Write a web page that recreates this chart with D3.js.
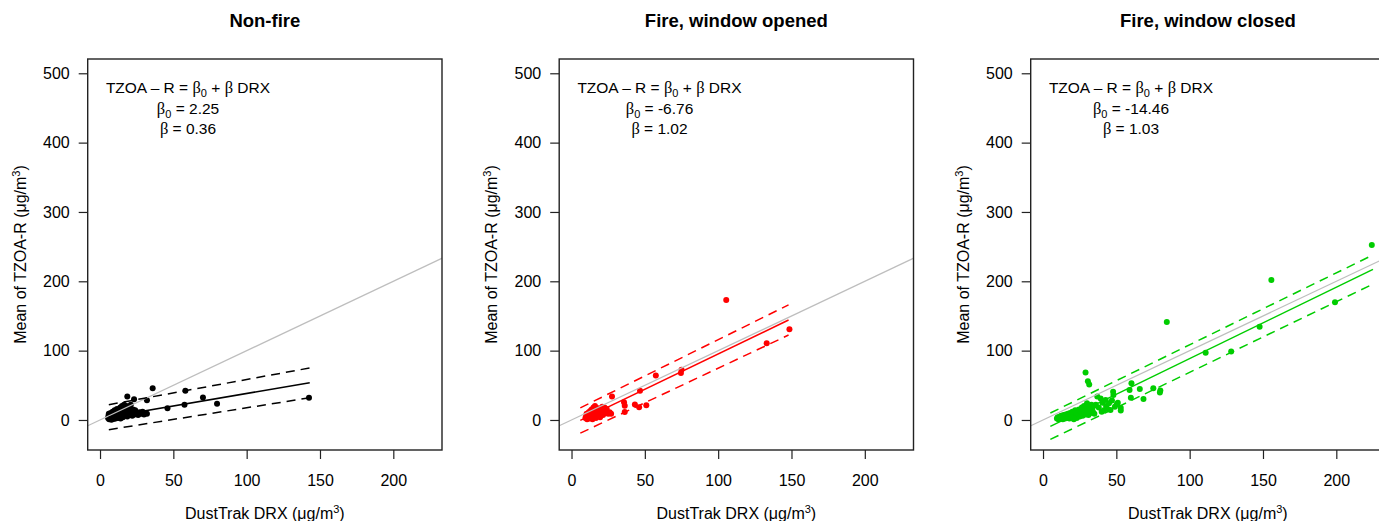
<!DOCTYPE html>
<html>
<head>
<meta charset="utf-8">
<script src="https://cdn.jsdelivr.net/npm/d3@7"></script>
<style>
  body { margin: 0; background: #fff; }
  text { font-family: "Liberation Sans", Arial, sans-serif; fill: #000; }
</style>
</head>
<body>
<div id="chart"></div>
<script>
// ---- data ----
const panelTitles = ["Non-fire", "Fire, window opened", "Fire, window closed"];
const panelColors = ["#000000", "#ff0000", "#00cd00"];
const intercepts = ["2.25", "-6.76", "-14.46"];
const slopes = ["0.36", "1.02", "1.03"];
const fitRanges = [[6, 143], [6, 148], [5, 225]];
const upperBand = [[22, 75], [17.5, 166], [10, 238]];
const lowerBand = [[-14, 32], [-19, 122.5], [-28, 196]];

const xTicks = [0, 50, 100, 150, 200];
const yTicks = [0, 100, 200, 300, 400, 500];

const nonFirePoints = [
  [5.5,3],[5.8,6],[6,9],[6.2,1],[6.5,4],[6.8,7],[7,2],[7.3,10],[7.5,5],[7.8,0.5],[8,8],[8.3,3],
  [8.6,12],[9,6],[9.2,1.5],[9.5,9],[9.8,4],[10,14],[10.3,7],[10.6,2],[11,11],[11.3,5],[11.6,16],
  [12,8],[12.3,3],[12.6,13],[13,10],[13.4,6],[13.8,18],[14,2],[14.3,12],[14.7,8],[15,20],[15.3,15],
  [15.6,4],[16,11],[16.4,22],[16.8,7],[17,17],[17.4,13],[17.8,9],[18.2,20],[18.6,5],[19,15],
  [19.4,11],[19.8,18],[20.2,8],[20.6,13],[21,22],[21.5,10],[22,6],[22.5,15],[23,12],[23.5,8],
  [24,14],[25,10],[26,7],[27,11],[28,9],[29,12],[30,8],[31,10],[32,9],
  [18.6,33.7],[23.2,30],[32,28.6],[35.9,45.7],[46,16.8],[57.6,21.8],[58.2,42.3],[70.2,32.5],
  [79.8,23.3],[142.5,32.2]
];
const fireOpenPoints = [
  [9.5,3],[10,6],[10.3,9],[10.6,1],[11,4],[11.3,8],[11.8,11],[12,2],[12.4,6],[12.8,13],[13,9],
  [13.3,4],[13.7,15],[14,7],[14.3,1],[14.6,11],[15,18],[15.3,5],[15.7,13],[16,20],[16.3,9],[16.7,3],
  [17,15],[17.4,11],[17.8,7],[18.2,17],[18.6,13],[19,9],[19.5,4],[20,15],[20.5,11],[21,19],[21.5,7],
  [22,14],[22.5,18],[23,10],[24,16],[25,9],[26,11],[27,9],
  [27.6,33.7],[35.8,25.5],[36.3,20.6],[36.3,11.5],[43.2,22.5],[46.1,18.3],[51,21.4],[46.7,42],
  [57.5,64],[75,72.5],[74.6,67.6],[105.5,173],[133.1,110.6],[148.6,130.8]
];
const fireClosedPoints = [
  [9.5,2],[10,4],[10.5,1],[11,3],[11.5,5],[12,2],[12.5,6],[13,3],[13.5,1],[14,7],[14.5,4],[15,2],
  [15.5,8],[16,5],[16.5,3],[17,9],[17.5,6],[18,2],[18.5,10],[19,7],[19.5,4],[20,12],[20.5,8],[21,1],
  [21.5,5],[22,14],[22.5,9],[23,3],[23.5,11],[24,7],[24.5,15],[25,5],[25.5,12],[26,9],[26.5,18],
  [27,6],[27.5,13],[28,20],[28.5,10],[29,8],[29.5,16],[30,24],[30.5,12],[31,7],[31.5,18],[32,14],
  [32.5,10],[33,22],[33.5,16],[34,12],[34.5,20],[35,9],
  [36,22],[37,33.7],[38,18],[39.3,31],[40,12],[40.5,25],[41.5,14],[42.7,28.8],[43,20],[44,16],
  [45,24],[46,14.4],[47,28],[48,36],[47.8,40.8],[49,19],[50.3,22.6],[51,25],[53,17.8],[53,13.5],
  [29,68.3],[30.6,55.8],[31.5,51.2],[59.9,32.2],[60.3,52.9],[59,43.3],[66,44.7],[68.5,30.3],
  [75.2,45.7],[80,42.6],[79.7,39.6],[84.4,141.4],[110.9,97.1],[128.3,98.6],[147.7,134.6],
  [155.7,201.9],[199.1,169.7],[224.2,252.4]
];
const panelPoints = [nonFirePoints, fireOpenPoints, fireClosedPoints];

// annotation anchor (in data units)
const noteX = 60;
const noteY = [479, 449.5, 420];

// ---- layout ----
const width = 1379, height = 521;
const panelLeft0 = 87.7, panelStep = 471.5, panelW = 354.3;
const plotTop = 59, plotBottom = 450;
const labelSize = "16px";

const svg = d3.select("#chart").append("svg")
  .attr("width", width)
  .attr("height", height)
  .attr("viewBox", `0 0 ${width} ${height}`);

panelTitles.forEach((title, i) => {
  const left = panelLeft0 + i * panelStep;
  const x = d3.scaleLinear().domain([-8.4, 233.2]).range([left, left + panelW]);
  const y = d3.scaleLinear().domain([-43.3, 520.6]).range([plotBottom, plotTop]);
  const col = panelColors[i];
  const g = svg.append("g");

  // clip for lines
  g.append("clipPath").attr("id", "clip" + i)
    .append("rect")
    .attr("x", left).attr("y", plotTop)
    .attr("width", panelW).attr("height", plotBottom - plotTop);

  // title
  g.append("text")
    .attr("x", left + panelW / 2)
    .attr("y", 26.7)
    .attr("text-anchor", "middle")
    .style("font-weight", "bold")
    .style("font-size", "18.5px")
    .text(title);

  // axes
  const xAxis = g.append("g")
    .attr("transform", `translate(0,${plotBottom})`)
    .call(d3.axisBottom(x).tickValues(xTicks).tickSize(9).tickPadding(20).tickSizeOuter(0));
  const yAxis = g.append("g")
    .attr("transform", `translate(${left},0)`)
    .call(d3.axisLeft(y).tickValues(yTicks).tickSize(9).tickPadding(9).tickSizeOuter(0));
  [xAxis, yAxis].forEach(a => {
    a.select(".domain").remove();
    a.selectAll("line").attr("stroke", "#222").attr("stroke-width", 1.2);
    a.selectAll("text")
      .style("font-family", '"Liberation Sans", Arial, sans-serif')
      .style("font-size", labelSize)
      .attr("fill", "#000");
  });
  xAxis.selectAll("text").attr("dy", "0.35em").attr("y", 30);

  // axis titles
  const xl = g.append("text")
    .attr("x", left + panelW / 2)
    .attr("y", 518.5)
    .attr("text-anchor", "middle")
    .style("font-size", labelSize);
  xl.append("tspan").text("DustTrak DRX (μg/m");
  xl.append("tspan").attr("dy", -6).style("font-size", "11px").text("3");
  xl.append("tspan").attr("dy", 6).text(")");

  const yl = g.append("text")
    .attr("transform", `translate(${left - 67.5},${(plotTop + plotBottom) / 2}) rotate(-90)`)
    .attr("text-anchor", "middle")
    .attr("dy", "0.35em")
    .style("font-size", labelSize);
  yl.append("tspan").text("Mean of TZOA-R (μg/m");
  yl.append("tspan").attr("dy", -6).style("font-size", "11px").text("3");
  yl.append("tspan").attr("dy", 6).text(")");

  // points
  g.append("g").selectAll("circle")
    .data(panelPoints[i])
    .join("circle")
    .attr("cx", d => x(d[0]))
    .attr("cy", d => y(d[1]))
    .attr("r", 3)
    .attr("fill", col);

  const lines = g.append("g").attr("clip-path", `url(#clip${i})`);

  // 1:1 reference line
  lines.append("line")
    .attr("x1", x(-20)).attr("y1", y(-20))
    .attr("x2", x(260)).attr("y2", y(260))
    .attr("stroke", "#bebebe")
    .attr("stroke-width", 1.3);

  // fitted line and bands
  const b0 = +intercepts[i], b1 = +slopes[i];
  const [xa, xb] = fitRanges[i];
  lines.append("line")
    .attr("x1", x(xa)).attr("y1", y(b0 + b1 * xa))
    .attr("x2", x(xb)).attr("y2", y(b0 + b1 * xb))
    .attr("stroke", col)
    .attr("stroke-width", 1.5);
  [upperBand[i], lowerBand[i]].forEach(band => {
    lines.append("line")
      .attr("x1", x(xa)).attr("y1", y(band[0]))
      .attr("x2", x(xb)).attr("y2", y(band[1]))
      .attr("stroke", col)
      .attr("stroke-width", 1.5)
      .attr("stroke-dasharray", "9,6");
  });

  // equation text
  const nx = x(noteX);
  const greek = t => t.append("tspan").style("font-family", '"Liberation Serif", "DejaVu Serif", serif').style("font-size", "16.5px");

  const l1 = g.append("text").attr("x", nx).attr("y", y(noteY[0])).attr("dy", "0.35em")
    .attr("text-anchor", "middle").style("font-size", "15.5px");
  l1.append("tspan").text("TZOA – R = ");
  greek(l1).text("β");
  l1.append("tspan").attr("dy", 4).style("font-size", "11px").text("0");
  l1.append("tspan").attr("dy", -4).text(" + ");
  greek(l1).text("β");
  l1.append("tspan").text(" DRX");

  const l2 = g.append("text").attr("x", nx).attr("y", y(noteY[1])).attr("dy", "0.35em")
    .attr("text-anchor", "middle").style("font-size", "15.5px");
  greek(l2).text("β");
  l2.append("tspan").attr("dy", 4).style("font-size", "11px").text("0");
  l2.append("tspan").attr("dy", -4).text(" = " + intercepts[i]);

  const l3 = g.append("text").attr("x", nx).attr("y", y(noteY[2])).attr("dy", "0.35em")
    .attr("text-anchor", "middle").style("font-size", "15.5px");
  greek(l3).text("β");
  l3.append("tspan").text(" = " + slopes[i]);

  // plot box
  g.append("rect")
    .attr("x", left).attr("y", plotTop)
    .attr("width", panelW).attr("height", plotBottom - plotTop)
    .attr("fill", "none")
    .attr("stroke", "#222")
    .attr("stroke-width", 1.4);
});
</script>
</body>
</html>
